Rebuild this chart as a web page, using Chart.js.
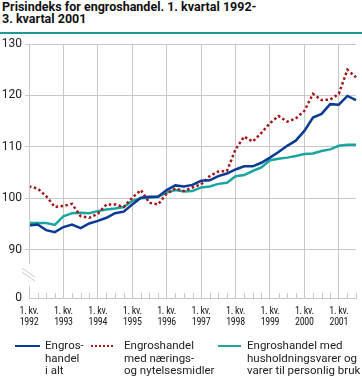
<!DOCTYPE html>
<html>
<head>
<meta charset="utf-8">
<script src="https://cdn.jsdelivr.net/npm/chart.js@4"></script>
<style>
  body { margin: 0; background: #fff; }
  #wrap { position: relative; width: 362px; height: 382px; overflow: hidden; font-family: Roboto, "Open Sans", sans-serif; color: #222; }
  #title { position: absolute; left: 2px; top: 1px; font-weight: bold; font-size: 12.5px; line-height: 12px; color: #111; }
  #rule { position: absolute; left: 0; top: 32px; width: 362px; height: 2px; background: #1e9a96; }
  canvas { position: absolute; left: 0; top: 0; }
  .leg { position: absolute; top: 339px; font-size: 11.5px; line-height: 12.5px; }
  .sw { position: absolute; top: 345px; height: 0; }
  .xl { position: absolute; top: 305px; width: 40px; text-align: center; font-family: "Liberation Sans Narrow", "Roboto Condensed", Roboto, sans-serif;
        font-size: 10px; line-height: 11px; color: #222; letter-spacing: -0.3px; }
</style>
</head>
<body>
<div id="wrap">
  <div id="title">Prisindeks for engroshandel. 1. kvartal 1992-<br>3. kvartal 2001</div>
  <div id="rule"></div>
  <canvas id="canvas" width="362" height="382"></canvas>
  <div class="sw" style="left:15px;width:25px;border-top:2.5px solid #0b3a94"></div>
  <div class="leg" style="left:45px">Engros-<br>handel<br>i alt</div>
  <div class="sw" style="left:91px;width:22px;border-top:2.5px dotted #a3151a"></div>
  <div class="leg" style="left:124px">Engroshandel<br>med nærings-<br>og nytelsesmidler</div>
  <div class="sw" style="left:218px;width:23px;border-top:2.5px solid #1aa5a0"></div>
  <div class="leg" style="left:247px">Engroshandel med<br>husholdningsvarer og<br>varer til personlig bruk</div>
</div>
<script>
const years = ["1992", "1993", "1994", "1995", "1996", "1997", "1998", "1999", "2000", "2001"];
const quarters = ["1", "2", "3", "4"];

const iAlt = [94.7, 94.9, 93.8, 93.4, 94.4, 94.9, 94.2, 95.1, 95.6, 96.2, 97.1, 97.4,
  98.8, 100.1, 100.3, 100.3, 101.6, 102.5, 102.3, 102.6, 103.4, 103.5, 104.3, 104.8,
  105.6, 106.2, 106.2, 106.9, 107.9, 109.0, 110.2, 111.2, 113.1, 115.7, 116.4, 118.3,
  118.2, 119.9, 119.1];
const naering = [102.3, 101.9, 100.4, 98.3, 98.5, 98.9, 96.5, 96.2, 97.0, 98.8, 98.8, 98.3,
  100.1, 101.6, 99.1, 98.8, 100.9, 101.9, 101.4, 102.1, 102.7, 104.3, 105.2, 105.3,
  109.5, 112.0, 111.0, 112.7, 114.6, 116.0, 114.9, 115.5, 117.0, 120.3, 119.1, 119.2,
  120.3, 125.0, 123.5];
const husholdning = [95.2, 95.2, 95.2, 94.8, 96.5, 97.1, 97.2, 97.1, 97.5, 97.8, 98.0, 98.3,
  99.5, 100.0, 100.1, 100.3, 101.1, 101.6, 101.3, 101.4, 102.1, 102.3, 102.8, 103.0,
  104.3, 104.5, 105.3, 106.0, 107.4, 107.7, 107.9, 108.2, 108.6, 108.7, 109.2, 109.5,
  110.2, 110.4, 110.4];
const yTicks = [90, 100, 110, 120, 130];
const yBottom = 80.6; // where the broken axis shows "0"

let labels = [];
for (let y of years) {
  for (let q of quarters) labels.push(q + ". kv. " + y);
}
labels = labels.slice(0, iAlt.length);

const grey = "#c8c8c8";

// broken y axis, quarter ticks on the x axis
const axisDecor = {
  id: "axisDecor",
  afterDraw(chart) {
    const ctx = chart.ctx;
    const area = chart.chartArea;
    const ys = chart.scales.y;
    const xs = chart.scales.x;
    const gapTop = ys.getPixelForValue(87.2);
    const gapBottom = ys.getPixelForValue(82.9);
    ctx.save();
    ctx.strokeStyle = grey;
    ctx.lineWidth = 1;
    ctx.beginPath();
    ctx.moveTo(area.left + 0.5, area.top);
    ctx.lineTo(area.left + 0.5, gapTop);
    ctx.moveTo(area.left + 0.5, gapBottom);
    ctx.lineTo(area.left + 0.5, area.bottom);
    const mid = (gapTop + gapBottom) / 2;
    for (let d of [-2, 2]) {
      ctx.moveTo(area.left - 7, mid + d - 5);
      ctx.lineTo(area.left + 6, mid + d + 4);
    }
    for (let i = 0; i < labels.length; i++) {
      if (i % 4 === 0) continue;
      const x = Math.round(xs.getPixelForValue(i)) + 0.5;
      ctx.moveTo(x, area.bottom);
      ctx.lineTo(x, area.bottom - 5);
    }
    ctx.stroke();
    ctx.restore();
  }
};

const ctx = document.getElementById("canvas").getContext("2d");

const data = {
  labels: labels,
  datasets: [
    { label: "Engroshandel i alt", data: iAlt, borderColor: "#0b3a94", borderWidth: 2.5 },
    { label: "Engroshandel med nærings- og nytelsesmidler", data: naering, borderColor: "#a3151a",
      borderWidth: 2.5, borderDash: [2.5, 2.5] },
    { label: "Engroshandel med husholdningsvarer og varer til personlig bruk", data: husholdning,
      borderColor: "#1aa5a0", borderWidth: 2.5 }
  ]
};

const options = {
  responsive: false,
  animation: false,
  layout: { padding: { top: 44, left: 0, right: 6, bottom: 56 } },
  elements: { point: { radius: 0 }, line: { tension: 0, borderCapStyle: "butt" } },
  plugins: { legend: { display: false }, tooltip: { enabled: false } },
  scales: {
    x: {
      offset: false,
      border: { display: true, color: grey },
      grid: {
        drawTicks: false,
        color: c => (c.index % 4 === 0 && c.index > 0 ? grey : "transparent")
      },
      ticks: { display: false, autoSkip: false },
      afterFit: s => { s.height = 28; }
    },
    y: {
      min: yBottom,
      max: 130,
      border: { display: false },
      grid: {
        tickLength: 4,
        color: c => (c.tick && c.tick.value < 85 ? "transparent" : grey)
      },
      afterBuildTicks: s => {
        s.ticks = [yBottom].concat(yTicks).map(v => ({ value: v }));
      },
      ticks: {
        padding: 3,
        color: "#222",
        font: { family: "Roboto", size: 12 },
        callback: v => (v < 85 ? "0" : v)
      },
      afterFit: s => { s.width = 29; }
    }
  }
};

const chart = new Chart(ctx, { type: "line", data: data, options: options, plugins: [axisDecor] });

// year labels under the first quarter of each year
const wrap = document.getElementById("wrap");
years.forEach((y, k) => {
  const px = chart.scales.x.getPixelForValue(k * 4);
  const div = document.createElement("div");
  div.className = "xl";
  div.style.left = (px - 20) + "px";
  div.innerHTML = "1. kv.<br>" + y;
  wrap.appendChild(div);
});
</script>
</body>
</html>
